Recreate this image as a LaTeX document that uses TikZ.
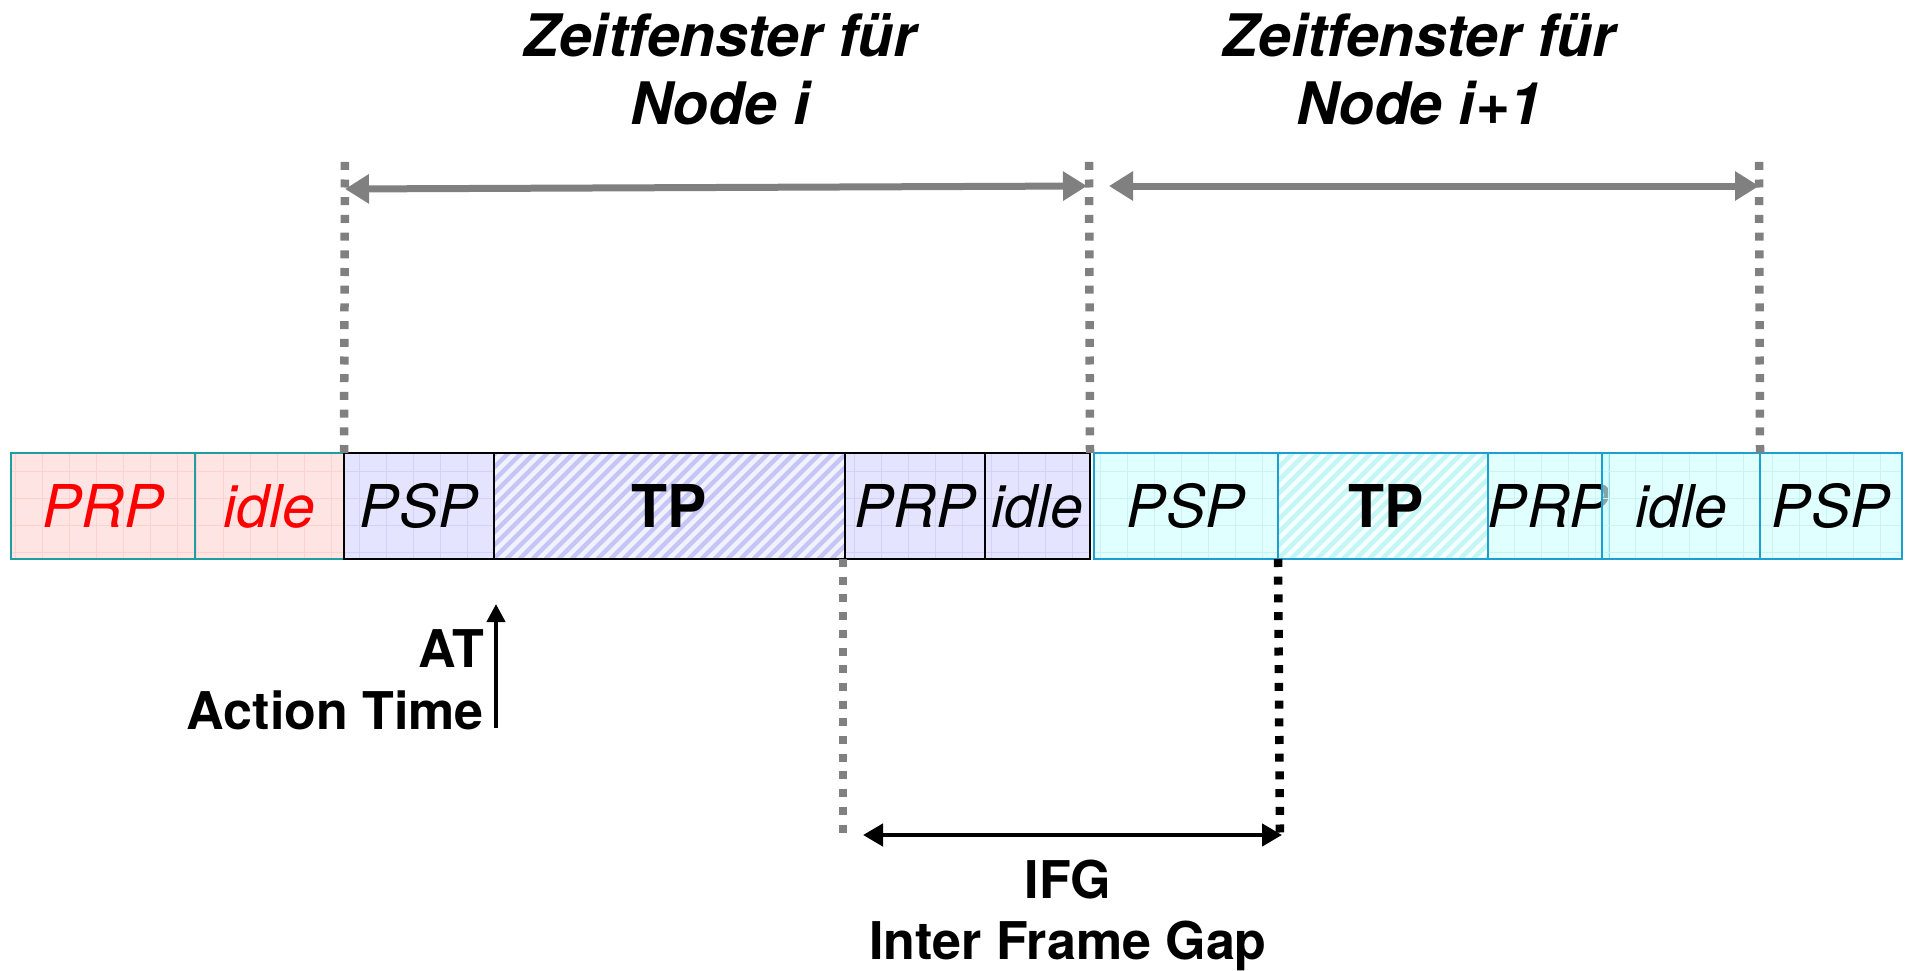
\documentclass[tikz,border=0pt]{standalone}
\usepackage{fontspec}
\setmainfont{TeX Gyre Heros}
\usetikzlibrary{arrows.meta}

\definecolor{redfill}{HTML}{FFE4E4}
\definecolor{redgrid}{HTML}{FFD2D2}
\definecolor{tealline}{HTML}{1E9E9E}
\definecolor{lavfill}{HTML}{E4E4FF}
\definecolor{lavgrid}{HTML}{D2D2F6}
\definecolor{lavhatch}{HTML}{C6C6F6}
\definecolor{lavhatchbg}{HTML}{F2F2FF}
\definecolor{cyfill}{HTML}{E0FFFF}
\definecolor{cyfillB}{HTML}{CFFFFF}
\definecolor{cygrid}{HTML}{CCF2F2}
\definecolor{cyhatch}{HTML}{C4F6F6}
\definecolor{cyhatchbg}{HTML}{F4FFFF}
\definecolor{cyline}{HTML}{1A9FD0}
\definecolor{midgray}{HTML}{808080}

\tikzset{
  seg/.style={rectangle, line width=2pt, minimum height=106pt, inner sep=0pt,
    outer sep=0pt, font=\fontsize{59}{60}\selectfont\itshape},
  gridbg/.style={path picture={
    \draw[#1, line width=0.8pt, step=27pt]
      (path picture bounding box.south west) grid (path picture bounding box.north east);}},
  hatchbg/.style={path picture={
    \foreach \k in {-10,...,30}
      \draw[#1, line width=4.5pt]
        ([xshift=\k*13pt]path picture bounding box.south west) -- ++(130pt,130pt);}},
  redseg/.style={seg, draw=tealline, fill=redfill, gridbg=redgrid, text=red},
  lavseg/.style={seg, draw=black, fill=lavfill, gridbg=lavgrid},
  lavtp/.style={seg, draw=black, fill=lavhatchbg, hatchbg=lavhatch},
  cyseg/.style={seg, draw=cyline, fill=cyfill, gridbg=cygrid},
  cytp/.style={seg, draw=cyline, fill=cyhatchbg, hatchbg=cyhatch},
  tpfont/.style={font=\fontsize{59}{60}\selectfont\bfseries},
  dotline/.style={line width=8.5pt, dash pattern=on 8pt off 9.7pt},
  spanarrow/.style={draw=midgray, line width=7pt,
    {Triangle[length=24pt,width=28pt]}-{Triangle[length=24pt,width=28pt]}},
  gaparrow/.style={draw=black, line width=4.5pt,
    {Triangle[length=20pt,width=22pt]}-{Triangle[length=20pt,width=22pt]}},
  title/.style={font=\fontsize{58.6}{68}\selectfont\bfseries\itshape, align=center,
    anchor=base, inner sep=0pt},
  note/.style={font=\fontsize{52}{62}\selectfont\bfseries, inner sep=0pt},
}

\begin{document}
\begin{tikzpicture}[x=1pt, y=-1pt]
  \useasboundingbox (0,0) rectangle (1906,971);

  % time slots of the previous node
  \node[redseg, minimum width=183.5pt] (pr1) at (102.75,506) {\raisebox{-2pt}{PRP}};
  \node[redseg, minimum width=149.5pt] (id1) at (269.25,506) {\raisebox{-2pt}{idle}};

  % time slots of node i
  \node[lavseg, minimum width=149.5pt] (ps1) at (418.75,506) {\raisebox{-2pt}{PSP}};
  \node[lavtp, tpfont, minimum width=351.5pt] (tp1) at (669.25,506) {\raisebox{-2pt}{TP}};
  \node[lavseg, minimum width=140pt] (pr2) at (915,506) {\raisebox{-2pt}{PRP}};
  \node[lavseg, minimum width=105pt] (id2) at (1037.5,506) {\raisebox{-2pt}{idle}};

  % time slots of node i+1
  \node[cyseg, minimum width=184pt] (ps2) at (1186,506) {\raisebox{-2pt}{PSP}};
  \node[cytp, tpfont, minimum width=217pt] (tp2) at (1386.5,506) {\raisebox{-2pt}{TP}};
  \node[cyseg, minimum width=107pt] (pr3) at (1548.5,506) {\raisebox{-2pt}{PRP}};
  \node[cyseg, fill=cyfillB, fill opacity=0.65, text opacity=1, minimum width=158pt] (id3) at (1681,506) {\raisebox{-2pt}{idle}};
  \node[cyseg, minimum width=142pt] (ps3) at (1831,506) {\raisebox{-2pt}{PSP}};

  % window limits
  \coordinate (w1) at (345,158);
  \coordinate (w2) at (1089,158);
  \coordinate (w3) at (1759,158);
  \draw[dotline, midgray] (ps1.north west) -- (w1);
  \draw[dotline, midgray] (id2.north east) -- (w2);
  \draw[dotline, midgray] (id3.north east) -- (w3);

  % window spans
  \coordinate (s1l) at (345,189);
  \coordinate (s1r) at (1087,186);
  \coordinate (s2l) at (1109,186);
  \coordinate (s2r) at (1759,186);
  \draw[spanarrow] (s1l) -- (s1r);
  \draw[spanarrow] (s2l) -- (s2r);

  \node[title] (t1) at (720,125) {Zeitfenster für\\Node i};
  \node[title] (t2) at (1419,125) {Zeitfenster für\\Node i+1};

  % action time
  \coordinate (atb) at (496,728);
  \coordinate (att) at (496,604);
  \draw[line width=4pt, -{Triangle[length=18pt,width=18pt]}] (atb) -- (att);
  \node[note, align=right, anchor=base east] (at) at (484,729) {AT\\Action Time};

  % inter frame gap
  \coordinate (g1) at (843,835);
  \coordinate (g2) at (1280,836);
  \draw[dotline, midgray] ([xshift=-2pt]tp1.south east) -- (g1);
  \draw[dotline, black] (tp2.south west) -- (g2);
  \coordinate (ga) at (863,835);
  \coordinate (gb) at (1282,835);
  \draw[gaparrow] (ga) -- (gb);
  \node[note, font=\fontsize{52}{61}\selectfont\bfseries, align=center, anchor=base] (ifg) at (1068,959) {IFG\\Inter Frame Gap};
\end{tikzpicture}
\end{document}
